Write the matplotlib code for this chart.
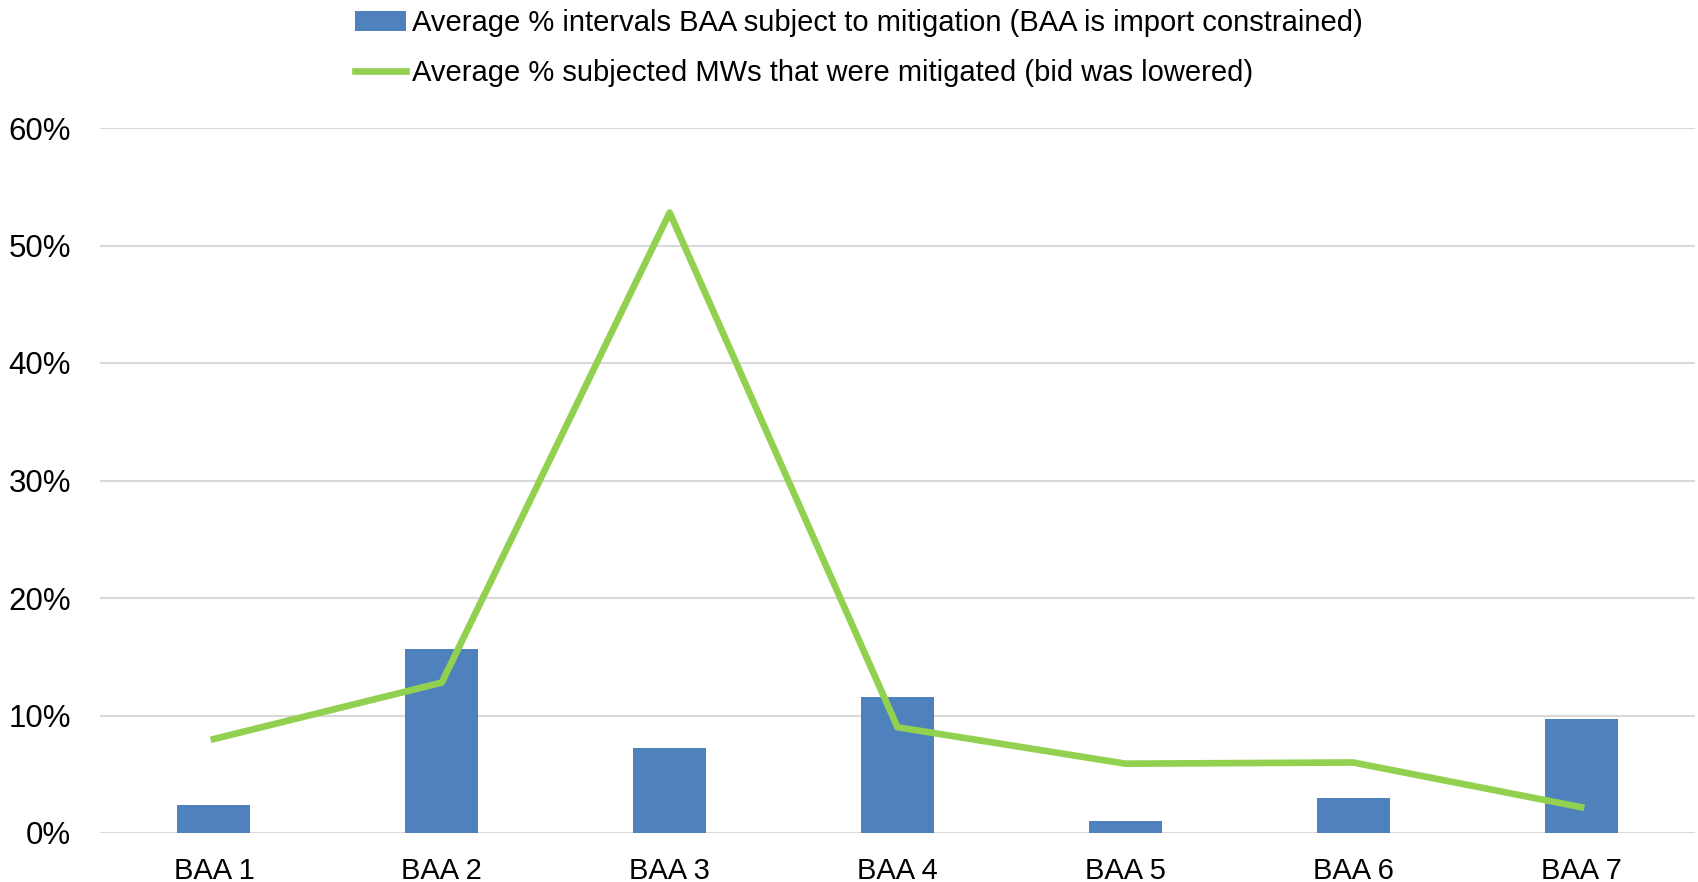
import numpy as np
import matplotlib.pyplot as plt
from matplotlib.ticker import PercentFormatter

plt.rcParams['font.family'] = ['Liberation Sans', 'DejaVu Sans']

baa = ['BAA 1', 'BAA 2', 'BAA 3', 'BAA 4', 'BAA 5', 'BAA 6', 'BAA 7']
pct_intervals = [2.4, 15.7, 7.2, 11.6, 1.0, 3.0, 9.7]
pct_mitigated = [8.0, 12.8, 52.8, 9.0, 5.9, 6.0, 2.2]

label_bar = 'Average % intervals BAA subject to mitigation (BAA is import constrained)'
label_line = 'Average % subjected MWs that were mitigated (bid was lowered)'

fig = plt.figure(figsize=(16.98, 8.82), dpi=100)
ax = fig.add_axes([100/1698, 1-833/882, 1595/1698, (833-128)/882])

x = np.arange(len(baa))
bars = ax.bar(x, pct_intervals, width=0.32, color='#4F81BD', label=label_bar, zorder=2)
line, = ax.plot(x, pct_mitigated, color='#92D050', lw=4.8, label=label_line, zorder=3)

ax.set_xlim(-0.5, len(baa)-0.5)
ax.set_ylim(0, 60)
ax.set_yticks(np.arange(0, 61, 10))
ax.yaxis.set_major_formatter(PercentFormatter(decimals=0))
ax.set_xticks(x)
ax.set_xticklabels(baa)
ax.grid(axis='y', color='#D9D9D9', lw=1.5, zorder=0)
for s in ax.spines.values():
    s.set_visible(False)
ax.tick_params(axis='both', length=0, colors='black')
ax.tick_params(axis='y', pad=21, labelsize=22.5)
ax.tick_params(axis='x', pad=17, labelsize=21)

fig.legend(handles=[bars, line], loc='upper left', bbox_to_anchor=(355/1698, 1-9/882),
           frameon=False, fontsize=21, handlelength=1.75, handletextpad=0.2,
           labelspacing=0.75, borderpad=0, borderaxespad=0)

fig.savefig('out.png', dpi=100)
